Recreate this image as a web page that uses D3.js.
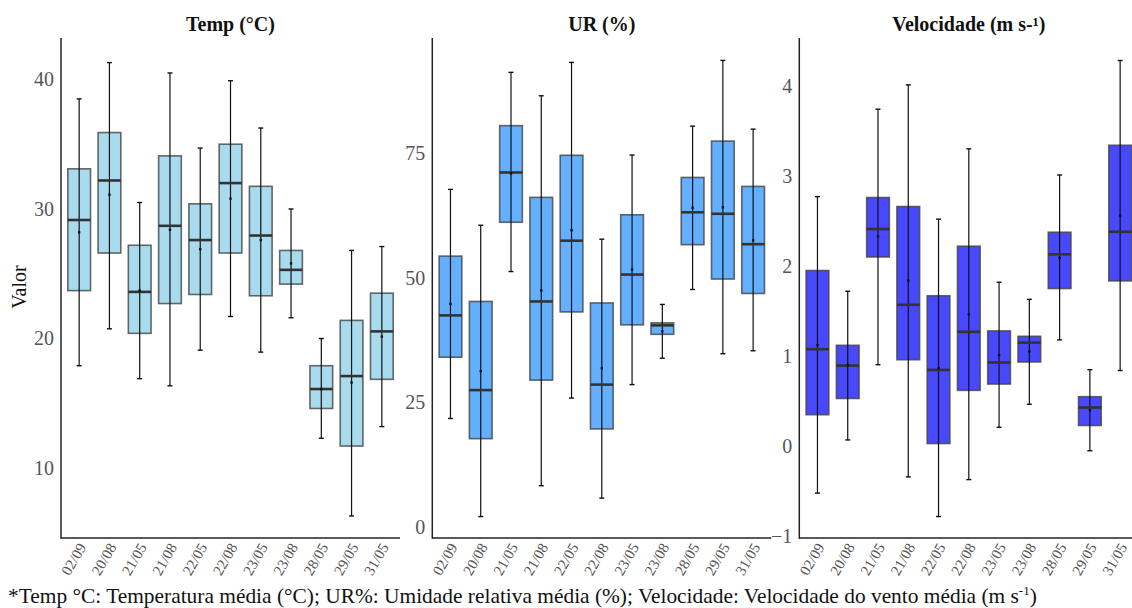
<!DOCTYPE html>
<html>
<head>
<meta charset="utf-8">
<script src="https://cdn.jsdelivr.net/npm/d3@7"></script>
<style>
  html, body { margin: 0; padding: 0; background: #ffffff; }
  svg { display: block; font-family: "Liberation Serif", "Times New Roman", serif; }
  svg text { font-family: "Liberation Serif", "Times New Roman", serif; }
</style>
</head>
<body>
<svg id="chart" width="1132" height="608"></svg>
<script>
// Sampling dates (x categories), shared by the three panels
const dates = ["02/09", "20/08", "21/05", "21/08", "22/05", "22/08", "23/05", "23/08", "28/05", "29/05", "31/05"];

// Mean air temperature (°C): five-number summary and mean per date
const tempMin    = [17.9, 20.75, 16.9, 16.35, 19.1, 21.7, 18.95, 21.6, 12.3, 6.3, 13.2];
const tempQ1     = [23.7, 26.6, 20.4, 22.7, 23.4, 26.6, 23.3, 24.2, 14.6, 11.7, 16.85];
const tempMedian = [29.15, 32.2, 23.6, 28.7, 27.6, 32.0, 27.95, 25.3, 16.1, 17.1, 20.55];
const tempQ3     = [33.1, 35.9, 27.2, 34.1, 30.4, 35.0, 31.75, 26.8, 17.9, 21.4, 23.5];
const tempMax    = [38.5, 41.3, 30.5, 40.5, 34.7, 39.9, 36.25, 30.0, 20.0, 26.8, 27.1];
const tempMean   = [28.2, 31.1, 23.7, 28.4, 26.9, 30.8, 27.6, 25.8, 16.1, 16.6, 20.15];

// Mean relative humidity (%)
const urMin    = [21.8, 2.1, 51.3, 8.3, 25.9, 5.8, 28.6, 33.9, 47.7, 34.8, 35.4];
const urQ1     = [34.1, 17.75, 61.2, 29.5, 43.2, 19.7, 40.6, 38.7, 56.7, 49.8, 46.9];
const urMedian = [42.5, 27.5, 71.2, 45.3, 57.5, 28.6, 50.7, 40.5, 63.2, 62.9, 56.8];
const urQ3     = [54.4, 45.3, 80.6, 66.2, 74.65, 45.0, 62.7, 41.0, 70.2, 77.5, 68.4];
const urMax    = [67.8, 60.6, 91.3, 86.6, 93.3, 57.8, 74.7, 44.7, 80.5, 93.7, 79.9];
const urMean   = [44.8, 31.3, 71.0, 47.5, 59.6, 31.9, 51.7, 39.3, 64.1, 64.2, 57.6];

// Mean wind speed (m s-1)
const velMin    = [-0.52, 0.07, 0.905, -0.34, -0.78, -0.37, 0.21, 0.466, 1.18, -0.05, 0.84];
const velQ1     = [0.35, 0.53, 2.1, 0.96, 0.03, 0.62, 0.69, 0.935, 1.75, 0.23, 1.835];
const velMedian = [1.077, 0.895, 2.41, 1.57, 0.847, 1.27, 0.93, 1.15, 2.13, 0.43, 2.38];
const velQ3     = [1.95, 1.12, 2.76, 2.66, 1.67, 2.22, 1.28, 1.22, 2.375, 0.55, 3.34];
const velMax    = [2.77, 1.72, 3.74, 4.01, 2.52, 3.30, 1.82, 1.63, 3.01, 0.85, 4.28];
const velMean   = [1.12, 0.9, 2.33, 1.84, 0.866, 1.465, 1.01, 1.05, 2.09, 0.40, 2.56];

// Panel titles and y tick values
const panelTitles = ["Temp (°C)", "UR (%)", "Velocidade (m s-¹)"];
const tempTicks = [10, 20, 30, 40];
const urTicks   = [0, 25, 50, 75];
const velTicks  = [-1, 0, 1, 2, 3, 4];

const serif = "Liberation Serif, Times New Roman, serif";
const svg = d3.select("#chart");
const plotTop = 38, plotBottom = 538;

function rows(mn, q1, md, q3, mx, mean) {
  return dates.map((d, i) => ({ date: d, min: mn[i], q1: q1[i], median: md[i], q3: q3[i], max: mx[i], mean: mean[i] }));
}

const panels = [
  { title: panelTitles[0], left: 61,    domain: [4.6, 43.2],     ticks: tempTicks, fill: "#a9dbef",
    data: rows(tempMin, tempQ1, tempMedian, tempQ3, tempMax, tempMean) },
  { title: panelTitles[1], left: 432.3, domain: [-2.2, 98.2],    ticks: urTicks,   fill: "#62b0ff",
    data: rows(urMin, urQ1, urMedian, urQ3, urMax, urMean) },
  { title: panelTitles[2], left: 799.3, domain: [-1.018, 4.53],  ticks: velTicks,  fill: "#4848ff",
    data: rows(velMin, velQ1, velMedian, velQ3, velMax, velMean) }
];
const panelWidth = 339;

panels.forEach(p => {
  const g = svg.append("g");
  const x = d3.scalePoint().domain(dates).range([p.left, p.left + panelWidth]).padding(0.6);
  const y = d3.scaleLinear().domain(p.domain).range([plotBottom, plotTop]);
  const boxW = x.step() * 0.75;
  const capW = 5;

  // y axis labels
  const ya = g.append("g").attr("transform", `translate(${p.left},0)`)
    .call(d3.axisLeft(y).tickValues(p.ticks).tickSize(0).tickPadding(7).tickFormat(d3.format("d")));
  ya.attr("font-family", serif);
  ya.select(".domain").remove();
  ya.selectAll("text").attr("font-size", 20).attr("fill", "#555555");

  // x axis labels
  const xa = g.append("g").attr("transform", `translate(0,${plotBottom})`)
    .call(d3.axisBottom(x).tickSize(0).tickPadding(0));
  xa.attr("font-family", serif);
  xa.select(".domain").remove();
  xa.selectAll("text")
    .attr("font-size", 15).attr("fill", "#555555")
    .attr("text-anchor", "end")
    .attr("dy", 0)
    .attr("transform", "translate(7,9) rotate(-60)");

  // axis lines
  g.append("line").attr("x1", p.left).attr("x2", p.left).attr("y1", plotTop).attr("y2", plotBottom + 0.75)
    .attr("stroke", "#222").attr("stroke-width", 1.5);
  g.append("line").attr("x1", p.left).attr("x2", p.left + panelWidth).attr("y1", plotBottom).attr("y2", plotBottom)
    .attr("stroke", "#222").attr("stroke-width", 1.5);

  // title
  g.append("text").attr("x", p.left + panelWidth / 2).attr("y", 31)
    .attr("text-anchor", "middle").attr("font-size", 20).attr("font-weight", "bold")
    .attr("fill", "#111").text(p.title);

  const b = g.selectAll(".box").data(p.data).join("g").attr("class", "box");

  // interquartile box
  b.append("rect")
    .attr("x", d => x(d.date) - boxW / 2).attr("width", boxW)
    .attr("y", d => y(d.q3)).attr("height", d => y(d.q1) - y(d.q3))
    .attr("fill", p.fill).attr("stroke", "#444").attr("stroke-opacity", 0.8).attr("stroke-width", 1.6);

  // whisker range with caps
  b.append("line")
    .attr("x1", d => x(d.date)).attr("x2", d => x(d.date))
    .attr("y1", d => y(d.max)).attr("y2", d => y(d.min))
    .attr("stroke", "#111").attr("stroke-width", 1.2);
  b.append("line")
    .attr("x1", d => x(d.date) - capW / 2).attr("x2", d => x(d.date) + capW / 2)
    .attr("y1", d => y(d.max)).attr("y2", d => y(d.max))
    .attr("stroke", "#111").attr("stroke-width", 1.4);
  b.append("line")
    .attr("x1", d => x(d.date) - capW / 2).attr("x2", d => x(d.date) + capW / 2)
    .attr("y1", d => y(d.min)).attr("y2", d => y(d.min))
    .attr("stroke", "#111").attr("stroke-width", 1.4);

  // median
  b.append("line")
    .attr("x1", d => x(d.date) - boxW / 2).attr("x2", d => x(d.date) + boxW / 2)
    .attr("y1", d => y(d.median)).attr("y2", d => y(d.median))
    .attr("stroke", "#333").attr("stroke-width", 2.6);

  // mean
  b.append("rect")
    .attr("x", d => x(d.date) - 1.2).attr("y", d => y(d.mean) - 1.2)
    .attr("width", 2.4).attr("height", 2.4).attr("fill", "#111");
});

// y axis title
svg.append("text").attr("transform", "translate(26,287) rotate(-90)")
  .attr("text-anchor", "middle").attr("font-size", 20).attr("fill", "#111").text("Valor");

// caption
const cap = svg.append("text").attr("x", 8).attr("y", 603).attr("font-size", 21.4).attr("fill", "#111");
cap.append("tspan").text("*Temp °C: Temperatura média (°C); UR%: Umidade relativa média (%); Velocidade: Velocidade do vento média (m s");
cap.append("tspan").attr("font-size", 13).attr("dy", -8).text("-1");
cap.append("tspan").attr("dy", 8).text(")");
</script>
</body>
</html>
